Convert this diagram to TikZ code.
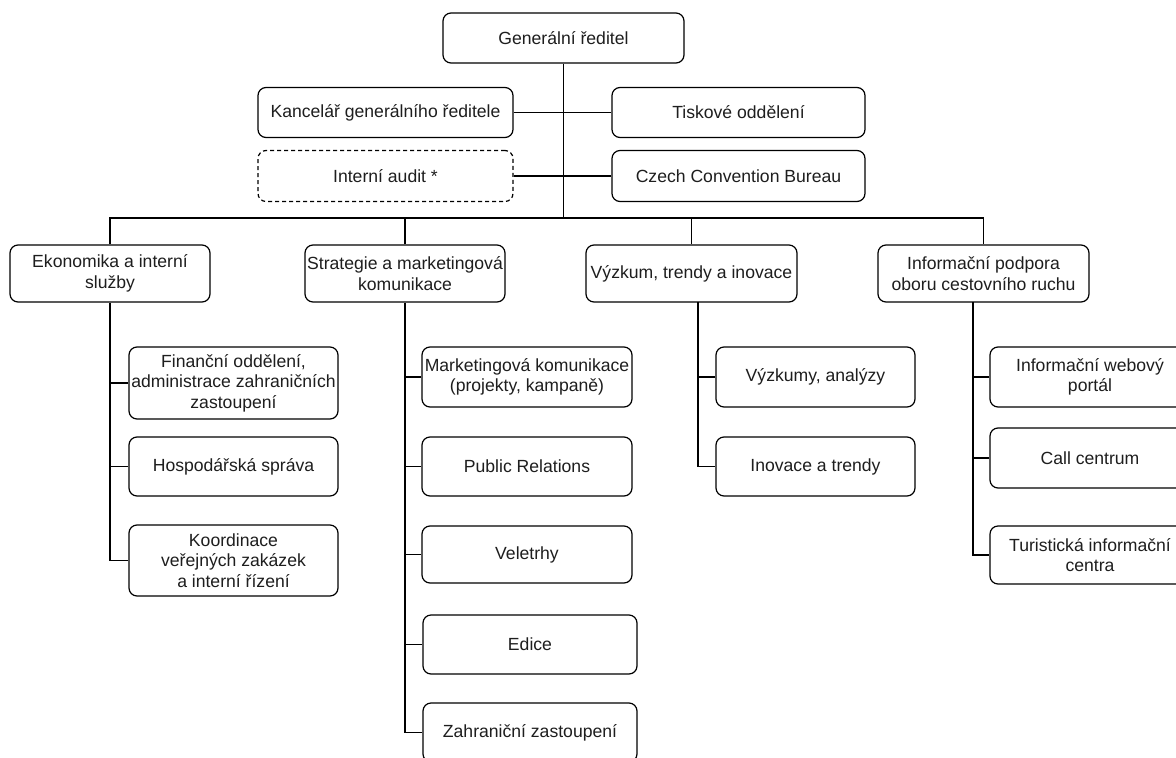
\documentclass[tikz,border=0pt]{standalone}
\usepackage{fontspec}
\setmainfont{Liberation Sans}
\definecolor{txt}{HTML}{1E1E1E}
\begin{document}
\begin{tikzpicture}[x=1pt,y=-1pt,
  box/.style={draw=black, line width=1.2pt, rounded corners=8pt, fill=white,
    align=center, inner xsep=0pt, inner ysep=2pt, text=txt,
    font=\fontsize{17.6}{20.5}\selectfont},
  dbox/.style={box, dash pattern=on 4pt off 3pt},
  conn/.style={draw=black, line width=1.2pt}]
\useasboundingbox (0,0) rectangle (1176,758);
\clip (0,0) rectangle (1176,758);
\fill[white] (0,0) rectangle (1176,758);
% top
\node[box, minimum width=241pt, minimum height=50pt] (gr) at (563.5,38) {Generální ředitel};
\node[box, minimum width=255pt, minimum height=50pt] (kanc) at (385.5,112.5) {Kancelář generálního ředitele};
\node[box, minimum width=253pt, minimum height=50pt] (tisk) at (738.5,112.5) {Tiskové oddělení};
\node[dbox, minimum width=255pt, minimum height=51pt] (audit) at (385.5,176) {Interní audit *};
\node[box, minimum width=253pt, minimum height=51pt] (ccb) at (738.5,176) {Czech Convention Bureau};
% level 2
\node[box, minimum width=200pt, minimum height=57pt] (ekon) at (110,273.5) {Ekonomika a interní\\služby};
\node[box, minimum width=200pt, minimum height=57pt] (strat) at (405,273.5) {Strategie a marketingová\\komunikace};
\node[box, minimum width=211pt, minimum height=57pt] (vyz) at (691.5,273.5) {Výzkum, trendy a inovace};
\node[box, minimum width=211pt, minimum height=57pt] (info) at (983.5,273.5) {Informační podpora\\oboru cestovního ruchu};
% level 3 - ekonomika
\node[box, minimum width=209pt, minimum height=72pt] (fin) at (233.5,383) {Finanční oddělení,\\administrace zahraničních\\zastoupení};
\node[box, minimum width=209pt, minimum height=59pt] (hosp) at (233.5,466.5) {Hospodářská správa};
\node[box, minimum width=209pt, minimum height=71pt] (koord) at (233.5,560.5) {Koordinace\\veřejných zakázek\\a interní řízení};
% strategie
\node[box, minimum width=210pt, minimum height=60pt] (mark) at (527,377) {Marketingová komunikace\\(projekty, kampaně)};
\node[box, minimum width=210pt, minimum height=59pt] (pr) at (527,466.5) {Public Relations};
\node[box, minimum width=210pt, minimum height=57pt] (vel) at (527,554.5) {Veletrhy};
\node[box, minimum width=214pt, minimum height=59pt] (edice) at (530,644.5) {Edice};
\node[box, minimum width=214pt, minimum height=59pt] (zahr) at (530,732.5) {Zahraniční zastoupení};
% vyzkum
\node[box, minimum width=199pt, minimum height=60pt] (vyzk) at (815.5,377) {Výzkumy, analýzy};
\node[box, minimum width=199pt, minimum height=59pt] (inov) at (815.5,466.5) {Inovace a trendy};
% info
\node[box, minimum width=200pt, minimum height=60pt] (web) at (1090,377) {Informační webový\\portál};
\node[box, minimum width=200pt, minimum height=60pt] (call) at (1090,458) {Call centrum};
\node[box, minimum width=200pt, minimum height=58pt] (tur) at (1090,555) {Turistická informační\\centra};
% connectors
\coordinate (bus) at (563.5,218);
\coordinate (vyzc) at (698,302);
\coordinate (infoc) at (973,302);
\path[conn] (gr.south) -- (bus);
\path[conn] (kanc.east) -- (tisk.west);
\path[conn] (audit.east) -- (ccb.west);
\path[conn] (ekon.north) |- (bus) -| (info.north);
\path[conn] (strat.north) -- (strat.north |- bus);
\path[conn] (vyz.north) -- (vyz.north |- bus);
% ekonomika column
\path[conn] (ekon.south) |- (koord.west);
\path[conn] (ekon.south |- fin.west) -- (fin.west);
\path[conn] (ekon.south |- hosp.west) -- (hosp.west);
% strategie column
\path[conn] (strat.south) |- (zahr.west);
\path[conn] (strat.south |- mark.west) -- (mark.west);
\path[conn] (strat.south |- pr.west) -- (pr.west);
\path[conn] (strat.south |- vel.west) -- (vel.west);
\path[conn] (strat.south |- edice.west) -- (edice.west);
% vyzkum column
\path[conn] (vyzc) |- (inov.west);
\path[conn] (vyzc |- vyzk.west) -- (vyzk.west);
% info column
\path[conn] (infoc) |- (tur.west);
\path[conn] (infoc |- web.west) -- (web.west);
\path[conn] (infoc |- call.west) -- (call.west);
\end{tikzpicture}
\end{document}
